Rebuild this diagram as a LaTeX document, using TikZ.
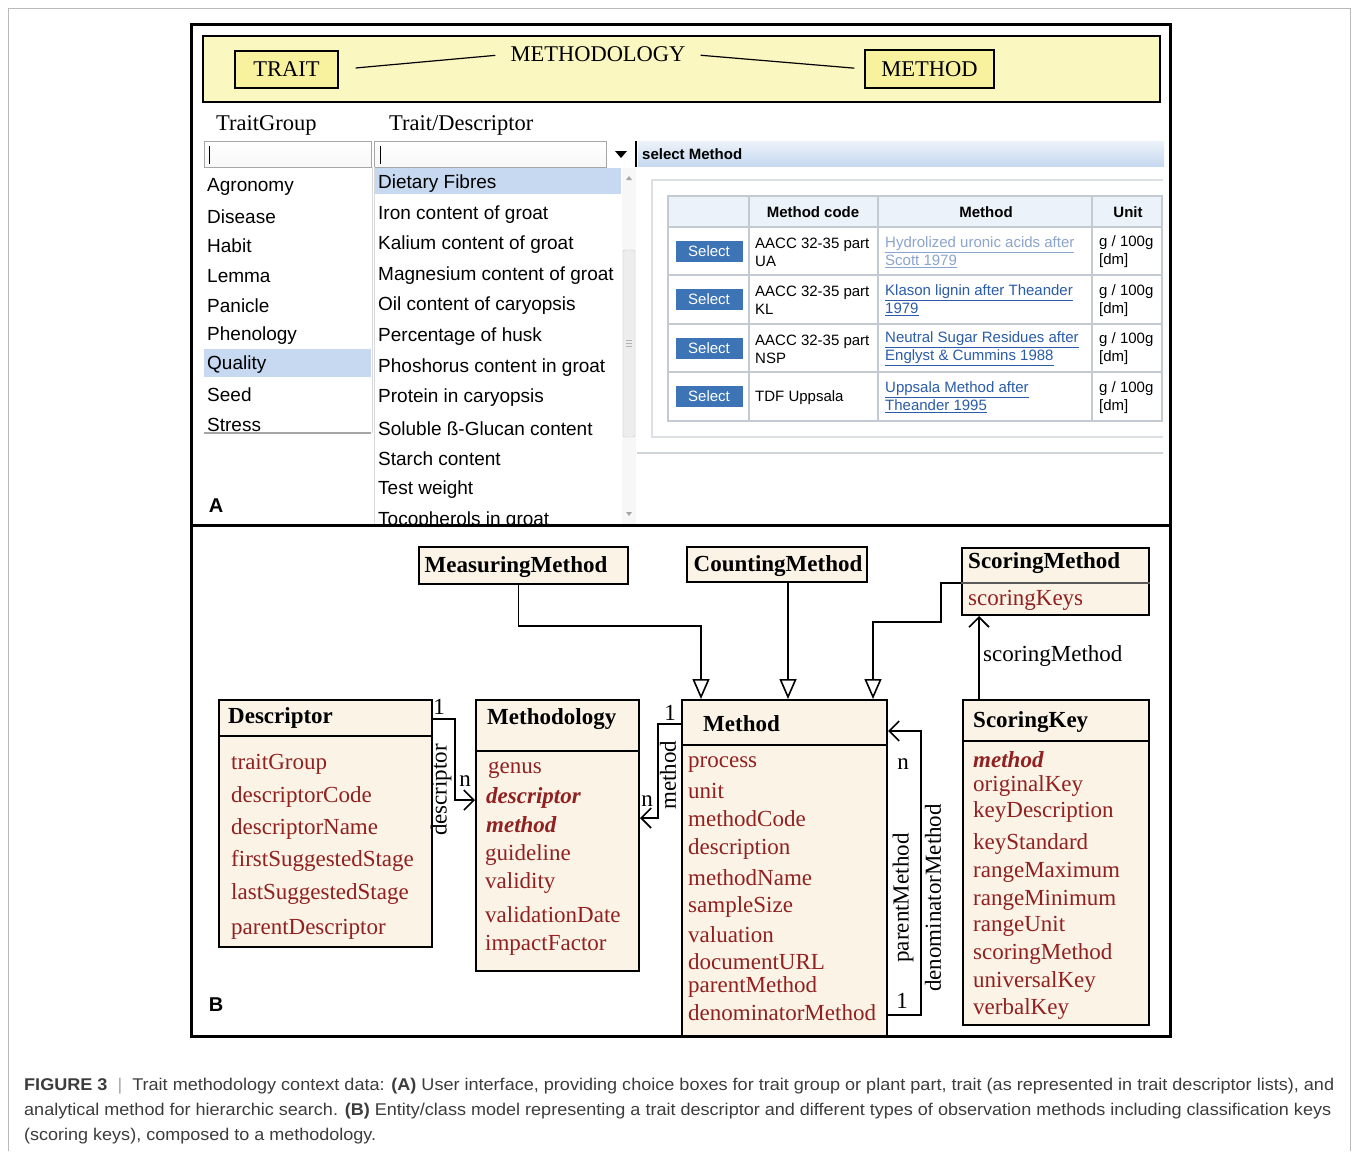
\documentclass[tikz,border=0pt]{standalone}
\usepackage{fontspec}
\usepackage{graphicx}
\setmainfont{Liberation Serif}
\setsansfont{Liberation Sans}
\usetikzlibrary{arrows.meta}

\definecolor{paleyellow}{RGB}{251,247,192}
\definecolor{boxyellow}{RGB}{248,241,158}
\definecolor{cream}{RGB}{250,243,230}
\definecolor{attrred}{RGB}{145,32,32}
\definecolor{selblue}{RGB}{198,217,240}
\definecolor{btnblue}{RGB}{61,116,182}
\definecolor{linkblue}{RGB}{42,92,168}
\definecolor{linkpale}{RGB}{140,165,205}
\definecolor{capgray}{RGB}{60,60,60}
\definecolor{gridgray}{RGB}{196,202,210}
\definecolor{hdrfill}{RGB}{236,242,249}

\newcommand{\setfs}[2]{\fontsize{#1}{#2}\selectfont}
\newsavebox{\capbox}
\newcommand{\capline}[2]{\sbox{\capbox}{#2}\pgfmathsetmacro{\capscale}{#1/\wd\capbox}\scalebox{\capscale}[1]{\usebox{\capbox}}}

\tikzset{
  umlbox/.style={draw, line width=2pt, fill=cream, anchor=north west, inner sep=0pt},
  umltitle/.style={font=\setfs{23}{27}\bfseries, anchor=west, inner sep=0pt, yshift=-2pt},
  attr/.style={font=\setfs{23}{27}, text=attrred, anchor=west, inner sep=0pt, yshift=-3pt},
  keyattr/.style={attr, font=\setfs{23}{27}\bfseries\itshape},
  plain/.style={font=\setfs{23}{27}, inner sep=0pt},
  rolelab/.style={plain, rotate=90},
  uitem/.style={font=\sffamily\setfs{19}{22}, anchor=west, inner sep=0pt, yshift=-2.5pt},
  cell/.style={font=\sffamily\setfs{15}{18}, anchor=west, align=left, inner sep=0pt},
  hcell/.style={font=\sffamily\bfseries\setfs{15}{18}, inner sep=0pt},
  selbtn/.style={fill=btnblue, text=white, font=\sffamily\setfs{15}{18}, minimum width=67pt, minimum height=21pt, inner sep=0pt},
  ybox/.style={draw, line width=1.5pt, fill=boxyellow, font=\setfs{22.5}{26}, inner sep=0pt},
  gen/.style={line width=1.6pt, -{Triangle[open, length=20pt, width=17pt]}},
  assoc/.style={line width=1.6pt, -{Straight Barb[length=10pt, width=20pt, line width=1.6pt]}},
  capline/.style={anchor=base west, inner sep=0pt, text=capgray, font=\sffamily\setfs{17}{20}}
}

\begin{document}
\begin{tikzpicture}[x=1pt, y=-1pt]
\useasboundingbox (0,0) rectangle (1356,1151);
\fill[white] (0,0) rectangle (1356,1151);
\draw[gray!55, line width=1pt] (8,1151) -- (8,8) -- (1350,8) -- (1350,1151);

% panel A
\node[draw, line width=1.5pt, fill=paleyellow, anchor=north west, minimum width=957pt, minimum height=66pt, inner sep=0pt] (band) at (202,35) {};
\node[ybox, minimum width=103pt, minimum height=37pt] (trait) at (286.5,69.5) {TRAIT};
\node[ybox, minimum width=129pt, minimum height=38pt] (methodbox) at (929.5,69) {METHOD};
\node[font=\setfs{22.5}{26}, inner sep=0pt] (mthylab) at (598,54) {METHODOLOGY};
\draw[line width=1.2pt, shorten <=17pt, shorten >=15pt] (trait.east) -- (mthylab.west);
\draw[line width=1.2pt, shorten <=15pt, shorten >=10pt] (mthylab.east) -- (methodbox.west);

\node[font=\setfs{22.5}{26}, anchor=west, inner sep=0pt] (tglab) at (216,125) {TraitGroup};
\node[font=\setfs{22.5}{26}, anchor=west, inner sep=0pt] (tdlab) at (389,125) {Trait/Descriptor};

\node[draw=gray!70, top color=white, bottom color=gray!6, anchor=north west, minimum width=167pt, minimum height=26pt, inner sep=0pt] (tgin) at (204,141) {};
\node[draw=gray!70, top color=white, bottom color=gray!6, anchor=north west, minimum width=232pt, minimum height=26pt, inner sep=0pt] (tdin) at (374,141) {};
\draw[line width=1pt] (209,146) -- (209,164);
\draw[line width=1pt] (380,146) -- (380,164);
\fill (615,151) -- (627,151) -- (621,158) -- cycle;
\draw[line width=1.5pt] (636,141) -- (636,167);
\node[top color=hdrfill, bottom color=selblue, anchor=north west, minimum width=526pt, minimum height=25pt, inner sep=0pt] (hdr) at (638,141) {};
\node[font=\sffamily\bfseries\setfs{15}{18}, anchor=west, inner sep=0pt] (hdrlab) at (642,154) {select Method};

\fill[selblue] (204,349) rectangle (371,377);
\draw[gray!30, line width=1pt] (372,167) -- (372,433);
\draw[gray!70, line width=1.5pt] (204,433) -- (371,433);
\foreach \t [count=\i] in {Agronomy,Disease,Habit,Lemma,Panicle,Phenology,Quality,Seed,Stress}
  \node[uitem] (tg\i) at (207,{184+29.75*(\i-1)}) {\t};

\begin{scope}
\clip (373,167) rectangle (640,524);
\fill[selblue] (374,168) rectangle (621,194);
\draw[gray!30, line width=1pt] (374,167) -- (374,524);
\fill[gray!6] (622,168) rectangle (636,524);
\draw[gray!45, fill=gray!14, rounded corners=2pt] (623,250) rectangle (635,437);
\foreach \yy in {340,343,346} \draw[gray!60] (626,\yy) -- (632,\yy);
\fill[gray!70] (626,180) -- (632,180) -- (629,176) -- cycle;
\fill[gray!70] (626,512) -- (632,512) -- (629,516) -- cycle;
\foreach \t [count=\i] in {Dietary Fibres,Iron content of groat,Kalium content of groat,Magnesium content of groat,Oil content of caryopsis,Percentage of husk,Phoshorus content in groat,Protein in caryopsis,Soluble ß-Glucan content,Starch content,Test weight,Tocopherols in groat}
  \node[uitem] (td\i) at (378,{181+30.6*(\i-1)}) {\t};
\end{scope}

\draw[gridgray!60, line width=1.5pt] (1163,180) -- (652,180) -- (652,437) -- (1163,437);
\draw[gridgray!80, line width=1.5pt] (637,453) -- (1163,453);

\fill[hdrfill] (668,196) rectangle (1162,227);
\draw[gridgray, line width=1.3pt] (668,196) rectangle (1162,421);
\foreach \xx in {749,878,1092} \draw[gridgray, line width=1.3pt] (\xx,196) -- (\xx,421);
\foreach \yy in {227,275,324,372} \draw[gridgray, line width=1.3pt] (668,\yy) -- (1162,\yy);
\node[hcell] (hcode) at (813,212) {Method code};
\node[hcell] (hmeth) at (986,212) {Method};
\node[hcell] (hunit) at (1128,212) {Unit};

\node[selbtn] (sel1) at (709,251) {Select};
\node[cell] (code1) at (755,252) {AACC 32-35 part\\UA};
\node[cell, text=linkpale] (lnk1) at (885,252) {\underline{Hydrolized uronic acids after}\\\underline{Scott 1979}};
\node[cell] (unit1) at (1099,252) {g / 100g\\{[dm]}};

\node[selbtn] (sel2) at (709,299.5) {Select};
\node[cell] (code2) at (755,300.5) {AACC 32-35 part\\KL};
\node[cell, text=linkblue] (lnk2) at (885,300.5) {\underline{Klason lignin after Theander}\\\underline{1979}};
\node[cell] (unit2) at (1099,300.5) {g / 100g\\{[dm]}};

\node[selbtn] (sel3) at (709,348) {Select};
\node[cell] (code3) at (755,349) {AACC 32-35 part\\NSP};
\node[cell, text=linkblue] (lnk3) at (885,349) {\underline{Neutral Sugar Residues after}\\\underline{Englyst \& Cummins 1988}};
\node[cell] (unit3) at (1099,349) {g / 100g\\{[dm]}};

\node[selbtn] (sel4) at (709,396.5) {Select};
\node[cell] (code4) at (755,397.5) {TDF Uppsala};
\node[cell, text=linkblue] (lnk4) at (885,397.5) {\underline{Uppsala Method after}\\\underline{Theander 1995}};
\node[cell] (unit4) at (1099,397.5) {g / 100g\\{[dm]}};

\node[font=\sffamily\bfseries\setfs{20}{24}, inner sep=0pt] (labA) at (216,506) {A};

% panel B
\node[umlbox, minimum width=209pt, minimum height=37pt] (meas) at (418,546) {};
\node[umltitle, anchor=center] (meastitle) at (516,565) {MeasuringMethod};
\node[umlbox, minimum width=180pt, minimum height=35pt] (count) at (686,546) {};
\node[umltitle, anchor=center] (counttitle) at (778,564) {CountingMethod};
\node[umlbox, minimum width=187pt, minimum height=67pt] (scm) at (961,547) {};
\draw[line width=1.5pt, gray!70!black] ([yshift=-36pt]scm.north west) -- ([yshift=-36pt]scm.north east);
\node[umltitle] (scmtitle) at (968,561) {ScoringMethod};
\node[attr] (scmkeys) at (968,597) {scoringKeys};

\node[umlbox, minimum width=213pt, minimum height=247pt] (desc) at (218,699) {};
\draw[line width=2pt] ([yshift=-37pt]desc.north west) -- ([yshift=-37pt]desc.north east);
\node[umltitle] (desctitle) at (228,716) {Descriptor};
\foreach \a/\yy [count=\i] in {traitGroup/761,descriptorCode/794,descriptorName/826,firstSuggestedStage/858,lastSuggestedStage/891,parentDescriptor/926}
  \node[attr] (da\i) at (231,\yy) {\a};

\node[umlbox, minimum width=163pt, minimum height=271pt] (mthy) at (475,699) {};
\draw[line width=2pt] ([yshift=-52pt]mthy.north west) -- ([yshift=-52pt]mthy.north east);
\node[umltitle] (mthytitle) at (487,717) {Methodology};
\node[attr] (ma1) at (488,767) {genus};
\node[keyattr] (ma2) at (486,795) {descriptor};
\node[keyattr] (ma3) at (486,822) {method};
\foreach \a/\yy [count=\i from 4] in {guideline/852,validity/880,validationDate/912,impactFactor/942}
  \node[attr] (ma\i) at (485,\yy) {\a};

\node[umlbox, minimum width=205pt, minimum height=337pt] (meth) at (681,699) {};
\draw[line width=2pt] ([yshift=-46pt]meth.north west) -- ([yshift=-46pt]meth.north east);
\node[umltitle] (methtitle) at (703,722) {Method};
\foreach \a/\yy [count=\i] in {process/762,unit/788,methodCode/816,description/846,methodName/875,sampleSize/904,valuation/932,documentURL/959,parentMethod/984,denominatorMethod/1010}
  \node[attr] (mt\i) at (688,\yy) {\a};

\node[umlbox, minimum width=186pt, minimum height=325pt] (skey) at (962,699) {};
\draw[line width=2pt] ([yshift=-42pt]skey.north west) -- ([yshift=-42pt]skey.north east);
\node[umltitle] (skeytitle) at (973,720) {ScoringKey};
\node[keyattr] (sk1) at (973,757) {method};
\foreach \a/\yy [count=\i from 2] in {originalKey/783,keyDescription/809,keyStandard/841,rangeMaximum/869,rangeMinimum/897,rangeUnit/923,scoringMethod/951,universalKey/979,verbalKey/1006}
  \node[attr] (sk\i) at (973,\yy) {\a};

\draw[gen] ([xshift=-5pt]meas.south) -- ++(0,41) -| ([xshift=20pt]meth.north west);
\draw[gen] ([xshift=11pt]count.south) -- ([xshift=11pt]count.south |- meth.north);
\draw[gen] ([yshift=-36pt]scm.north west) -- ++(-20,0) -- ++(0,39) -| ([xshift=192pt]meth.north west);
\draw[assoc] ([xshift=17pt]skey.north west) -- ([xshift=18pt]scm.south west);
\node[plain, anchor=west] (smlab) at (983,656) {scoringMethod};

\draw[assoc] ([yshift=-20pt]desc.north east) -- ++(22,0) |- ([yshift=-101pt]mthy.north west);
\node[plain] (dm1) at (439,707) {1};
\node[plain] (dmn) at (465,781) {n};
\node[rolelab] (dmrole) at (441,790) {descriptor};

\draw[assoc] ([yshift=-25pt]meth.north west) -- ++(-23,0) |- ([yshift=-119pt]mthy.north east);
\node[plain] (mm1) at (670,713) {1};
\node[plain] (mmn) at (647,801) {n};
\node[rolelab] (mmrole) at (668,775) {method};

\draw[assoc] ([yshift=23pt]meth.south east) -- ++(33,0) |- ([yshift=-32pt]meth.north east);
\node[plain] (pmn) at (903,764) {n};
\node[plain] (pm1) at (902,1001) {1};
\node[rolelab] (pmrole) at (903,898) {parentMethod};
\node[rolelab] (dnrole) at (933,898) {denominatorMethod};

\node[font=\sffamily\bfseries\setfs{20}{24}, inner sep=0pt] (labB) at (216,1005) {B};

\draw[line width=3pt] (191,24) rectangle (1170,1036);
\draw[line width=3pt] (191,525) -- (1170,525);

% caption
\node[capline] (cap1) at (24,1090) {\capline{1310}{\textbf{FIGURE 3}\ \ {\color{gray!70}|}\ \ Trait methodology context data: \textbf{(A)} User interface, providing choice boxes for trait group or plant part, trait (as represented in trait descriptor lists), and}};
\node[capline] (cap2) at (24,1115) {\capline{1307}{analytical method for hierarchic search. \textbf{(B)} Entity/class model representing a trait descriptor and different types of observation methods including classification keys}};
\node[capline] (cap3) at (24,1140) {\capline{352}{(scoring keys), composed to a methodology.}};
\end{tikzpicture}
\end{document}
